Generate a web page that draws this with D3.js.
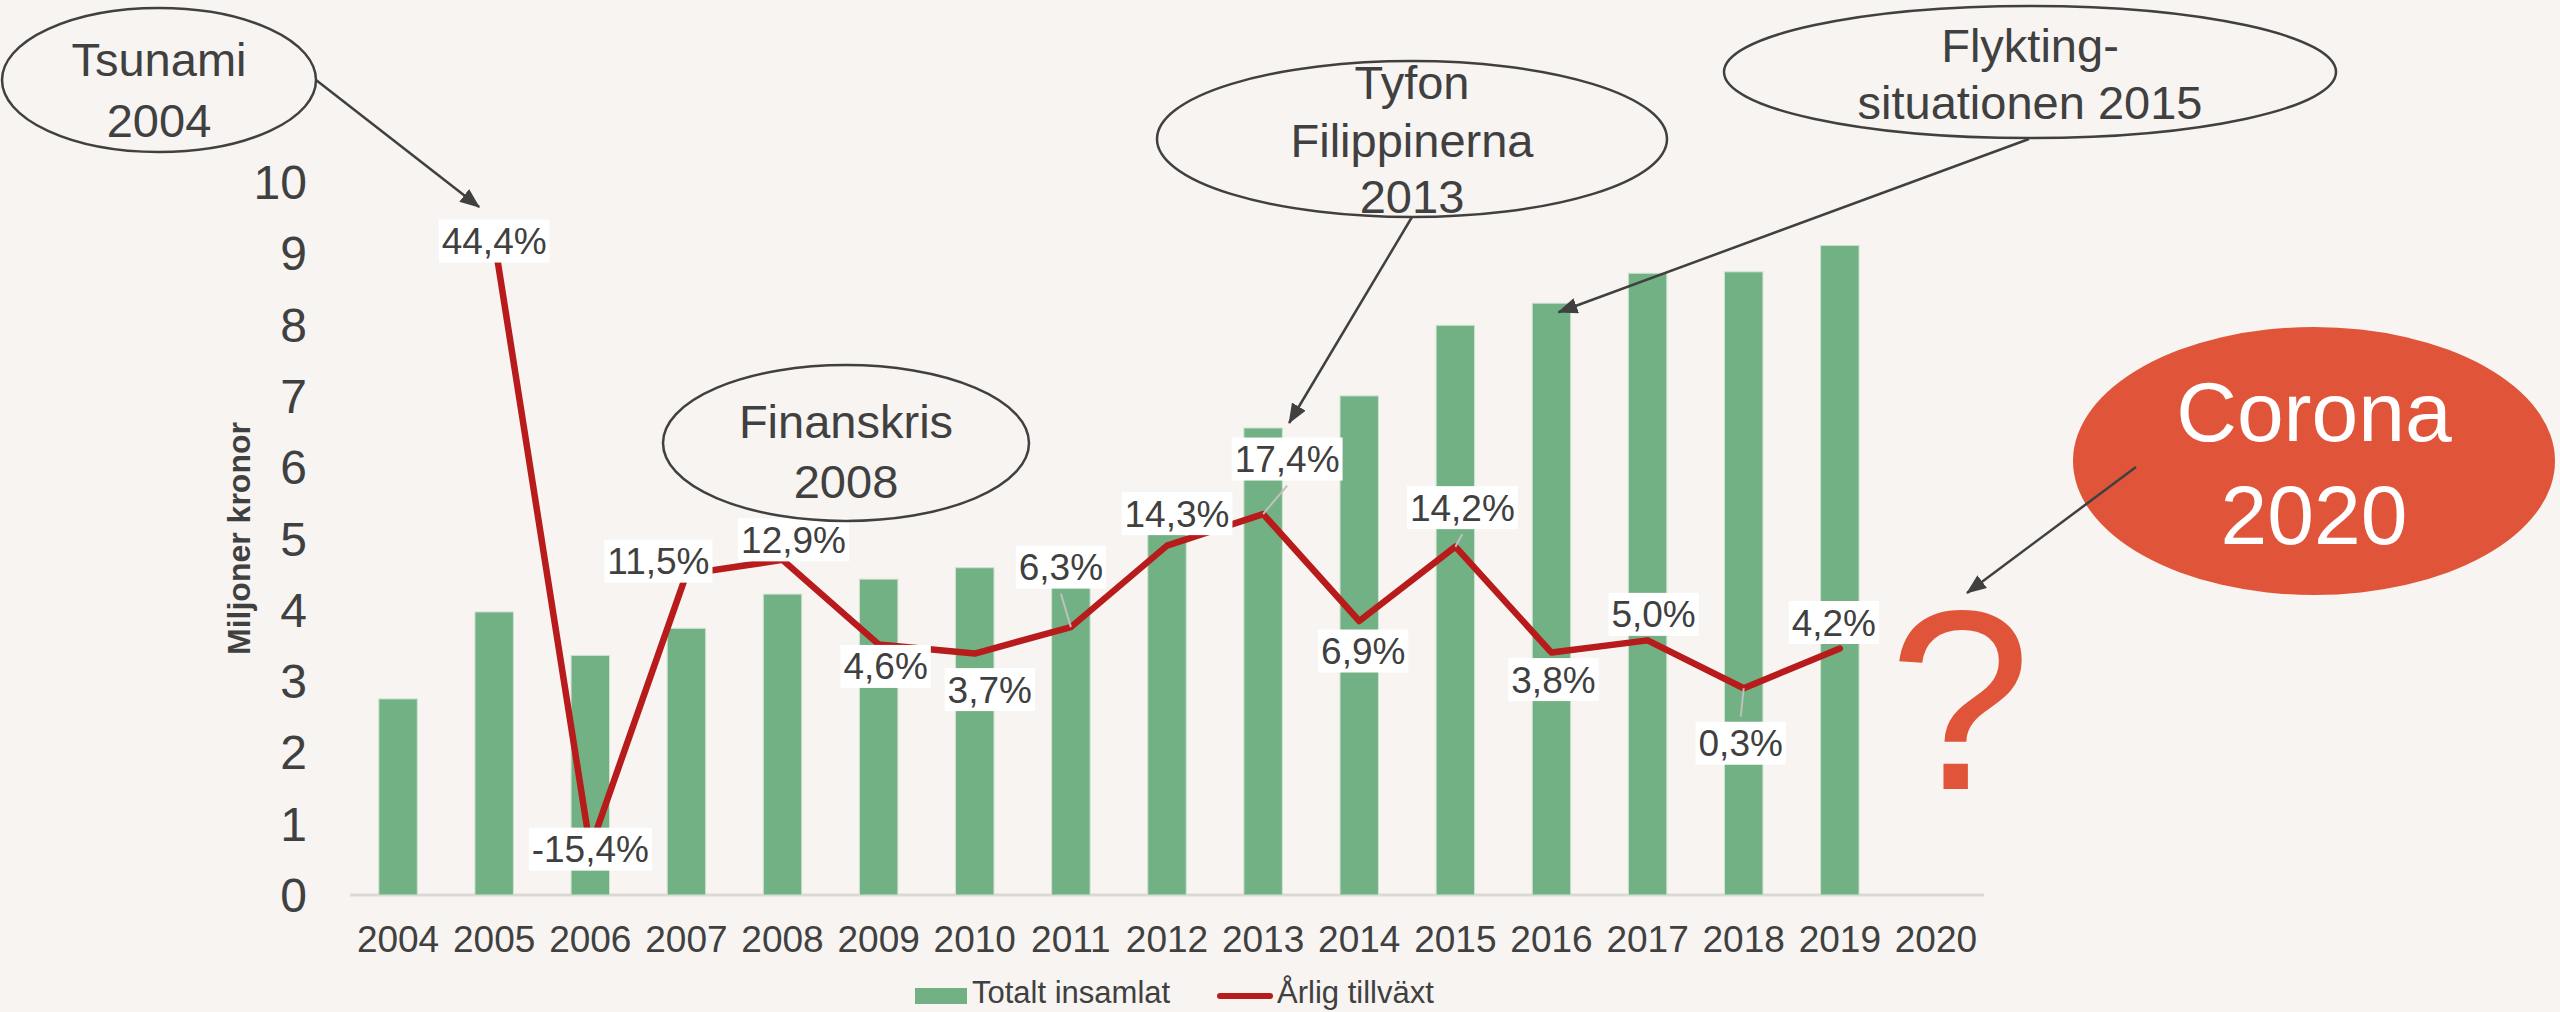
<!DOCTYPE html>
<html>
<head>
<meta charset="utf-8">
<script src="https://cdn.jsdelivr.net/npm/d3@7"></script>
<style>
  html, body { margin: 0; padding: 0; background: #f7f4f1; }
  svg { display: block; font-family: "Liberation Sans", Arial, sans-serif; }
</style>
</head>
<body>
<svg id="chart" width="2560" height="1012"></svg>
<script>
// --- data ---
const years = ['2004', '2005', '2006', '2007', '2008', '2009', '2010', '2011', '2012',
  '2013', '2014', '2015', '2016', '2017', '2018', '2019', '2020'];
const totals = [2.75, 3.97, 3.36, 3.74, 4.22, 4.43, 4.59, 4.88, 5.58,
  6.55, 7.00, 7.99, 8.30, 8.72, 8.74, 9.11, null];
const growthYears = ['2005', '2006', '2007', '2008', '2009', '2010', '2011', '2012',
  '2013', '2014', '2015', '2016', '2017', '2018', '2019'];
const growth = [44.4, -15.4, 11.5, 12.9, 4.6, 3.7, 6.3, 14.3, 17.4, 6.9, 14.2, 3.8, 5.0, 0.3, 4.2];
const yTicks = [0, 1, 2, 3, 4, 5, 6, 7, 8, 9, 10];
const seriesNames = ['Totalt insamlat', 'Årlig tillväxt'];
const yTitle = 'Miljoner kronor';

// label placement (px offset of label centre from its point), leader lines where Excel drew them
const labelOffsets = {
  2005: [0, 2], 2006: [0, 1], 2007: [-28, -13], 2008: [11, -20], 2009: [7, 22],
  2010: [15, 36], 2011: [-10, -60], 2012: [10, -32], 2013: [24, -55], 2014: [4, 30],
  2015: [7, -39], 2016: [2, 27], 2017: [6, -26], 2018: [-3, 55], 2019: [-6, -26]
};
const leaders = ['2011', '2013', '2015', '2018'];

const textCol = '#404040';
const barCol = '#72b183';
const lineCol = '#b81b1b';
const coronaCol = '#e0553a';

const svg = d3.select('#chart');
svg.append('rect').attr('width', 2560).attr('height', 1012).attr('fill', '#f7f4f1');

const x = d3.scaleBand().domain(years).range([350, 1984]).paddingInner(0.6).paddingOuter(0.3);
const y = d3.scaleLinear().domain([0, 10]).range([895, 182]);
const y2 = d3.scaleLinear().domain([-20, 50]).range([895, 182]);
const cx = d => x(d) + x.bandwidth() / 2;

const sv = d3.formatLocale({ decimal: ',', thousands: ' ', grouping: [3], currency: ['', ' kr'], minus: '-' });
const pct = v => sv.format('.1f')(v) + '%';

// axis line
svg.append('line')
  .attr('x1', 350).attr('x2', 1984).attr('y1', y(0)).attr('y2', y(0))
  .attr('stroke', '#dcd9d5').attr('stroke-width', 3);

// y ticks
svg.append('g').selectAll('text').data(yTicks).enter().append('text')
  .attr('x', 307).attr('y', d => y(d) + 17)
  .attr('text-anchor', 'end').attr('font-size', 48).attr('fill', textCol)
  .text(d => d);

// x labels
svg.append('g').selectAll('text').data(years).enter().append('text')
  .attr('x', d => cx(d)).attr('y', 952)
  .attr('text-anchor', 'middle').attr('font-size', 37).attr('fill', textCol)
  .text(d => d);

// y title
svg.append('text')
  .attr('transform', 'translate(250,' + (y(0) + y(10)) / 2 + ') rotate(-90)')
  .attr('text-anchor', 'middle').attr('font-size', 32).attr('font-weight', 'bold')
  .attr('fill', textCol).text(yTitle);

// bars
const barData = years.map((yr, i) => ({ yr, v: totals[i] })).filter(d => d.v != null);
svg.append('g').selectAll('rect').data(barData).enter().append('rect')
  .attr('x', d => x(d.yr)).attr('width', x.bandwidth())
  .attr('y', d => y(d.v)).attr('height', d => y(0) - y(d.v))
  .attr('fill', barCol).attr('stroke', '#cfe2d3').attr('stroke-width', 1);

// growth line
const pts = growthYears.map((yr, i) => ({ yr, g: growth[i], px: cx(yr), py: y2(growth[i]) }));
svg.append('path')
  .datum(pts)
  .attr('d', d3.line().x(d => d.px).y(d => d.py))
  .attr('fill', 'none').attr('stroke', lineCol).attr('stroke-width', 6.5)
  .attr('stroke-linejoin', 'round').attr('stroke-linecap', 'round');

// data labels
const lab = svg.append('g');
pts.forEach(d => {
  const off = labelOffsets[d.yr];
  const lx = d.px + off[0], ly = d.py + off[1];
  const g = lab.append('g');
  const t = g.append('text')
    .attr('x', lx).attr('y', ly + 13)
    .attr('text-anchor', 'middle').attr('font-size', 37).attr('fill', textCol)
    .text(pct(d.g));
  const bb = t.node().getBBox();
  const bw = bb.width + 6, bh = 43;
  g.insert('rect', 'text')
    .attr('x', lx - bw / 2).attr('y', ly - bh / 2).attr('width', bw).attr('height', bh)
    .attr('fill', '#ffffff');
  if (leaders.includes(d.yr)) {
    const edge = off[1] < 0 ? ly + bh / 2 + 5 : ly - bh / 2 - 5;
    lab.insert('line', ':first-child')
      .attr('x1', lx).attr('y1', edge).attr('x2', d.px).attr('y2', d.py)
      .attr('stroke', '#bfbfbf').attr('stroke-width', 2);
  }
});

// legend
const leg = svg.append('g');
leg.append('rect').attr('x', 915).attr('y', 988).attr('width', 52).attr('height', 16).attr('fill', barCol);
leg.append('text').attr('x', 972).attr('y', 1003).attr('font-size', 31).attr('fill', textCol).text(seriesNames[0]);
leg.append('line').attr('x1', 1220).attr('x2', 1270).attr('y1', 996).attr('y2', 996)
  .attr('stroke', lineCol).attr('stroke-width', 6).attr('stroke-linecap', 'round');
leg.append('text').attr('x', 1277).attr('y', 1003).attr('font-size', 31).attr('fill', textCol).text(seriesNames[1]);

// --- annotations ---
const defs = svg.append('defs');
defs.append('marker').attr('id', 'arr')
  .attr('viewBox', '0 0 20 16').attr('refX', 19).attr('refY', 8)
  .attr('markerWidth', 20).attr('markerHeight', 16)
  .attr('markerUnits', 'userSpaceOnUse').attr('orient', 'auto')
  .append('path').attr('d', 'M0,0 L20,8 L0,16 Z').attr('fill', textCol);

const bubbles = [
  { cx: 159, cy: 80, rx: 157, ry: 72, lines: ['Tsunami', '2004'], base: [76, 137] },
  { cx: 846, cy: 443, rx: 183, ry: 78, lines: ['Finanskris', '2008'], base: [438, 498] },
  { cx: 1412, cy: 139, rx: 255, ry: 78, lines: ['Tyfon', 'Filippinerna', '2013'], base: [99, 157, 213] },
  { cx: 2030, cy: 72, rx: 306, ry: 66, lines: ['Flykting-', 'situationen 2015'], base: [62, 119] }
];
const ann = svg.append('g');
bubbles.forEach(b => {
  ann.append('ellipse').attr('cx', b.cx).attr('cy', b.cy).attr('rx', b.rx).attr('ry', b.ry)
    .attr('fill', 'none').attr('stroke', textCol).attr('stroke-width', 2.5);
  b.lines.forEach((s, i) => {
    ann.append('text').attr('x', b.cx).attr('y', b.base[i])
      .attr('text-anchor', 'middle').attr('font-size', 47).attr('fill', textCol).text(s);
  });
});

// Corona bubble and question mark
ann.append('ellipse').attr('cx', 2314).attr('cy', 461).attr('rx', 241).attr('ry', 134).attr('fill', coronaCol);
ann.append('text').attr('x', 2314).attr('y', 441).attr('text-anchor', 'middle')
  .attr('font-size', 84).attr('fill', '#ffffff').text('Corona');
ann.append('text').attr('x', 2314).attr('y', 544).attr('text-anchor', 'middle')
  .attr('font-size', 84).attr('fill', '#ffffff').text('2020');
ann.append('text').attr('x', cx('2020') + 24).attr('y', 789).attr('text-anchor', 'middle')
  .attr('font-size', 256).attr('fill', coronaCol).text('?');

// arrows (tips tied to the marks they point at)
const arrows = [
  [316, 80, cx('2005') - 15, y2(44.4) - 32],
  [1412, 217, cx('2013') + 26, y(6.55) - 5],
  [2029, 139, cx('2016') + 7, y(8.30) + 9],
  [2136, 467, 1967, 593]
];
arrows.forEach(a => {
  ann.append('line').attr('x1', a[0]).attr('y1', a[1]).attr('x2', a[2]).attr('y2', a[3])
    .attr('stroke', textCol).attr('stroke-width', 2.5).attr('marker-end', 'url(#arr)');
});
</script>
</body>
</html>
